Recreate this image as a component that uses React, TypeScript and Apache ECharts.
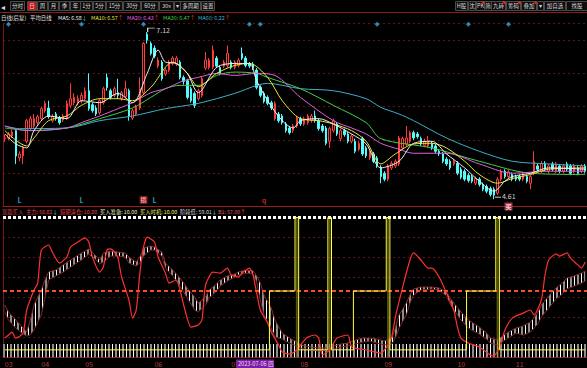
import React, { useEffect, useRef } from 'react';
import * as echarts from 'echarts';

// ---- price candles: [open, close, low, high] ----
const ohlc: number[][] = [
  [5.52,5.53,5.47,5.58],[5.53,5.59,5.50,5.62],[5.56,5.62,5.53,5.66],[5.64,5.26,5.14,5.66],[5.23,5.29,5.18,5.33],
  [5.26,5.38,5.14,5.41],[5.48,5.79,5.45,5.82],[5.67,5.82,5.64,5.86],[5.71,5.82,5.68,5.89],[5.76,5.85,5.73,5.88],
  [5.82,5.97,5.79,6.00],[5.94,6.05,5.91,6.09],[5.98,5.85,5.82,6.09],[5.79,5.85,5.76,5.89],[5.89,5.82,5.79,5.92],
  [5.83,5.76,5.73,5.86],[5.80,5.86,5.77,5.89],[5.83,6.05,5.80,6.09],[6.02,6.12,5.98,6.35],[6.06,6.14,6.02,6.20],
  [6.05,6.12,6.02,6.17],[6.09,6.17,6.05,6.21],[6.12,6.24,6.09,6.29],[6.24,5.97,5.94,6.50],[6.03,5.94,5.91,6.06],
  [5.98,5.89,5.86,6.02],[5.91,6.09,5.88,6.12],[6.06,6.27,6.03,6.30],[6.44,6.29,6.24,6.50],[6.24,6.14,6.11,6.27],
  [6.17,6.27,6.14,6.30],[6.21,6.17,6.12,6.42],[6.12,6.21,6.09,6.24],[6.15,6.27,6.12,6.39],[6.24,5.86,5.79,6.27],
  [5.83,5.94,5.80,5.97],[5.89,6.00,5.86,6.03],[5.98,6.27,5.95,6.44],[6.21,6.95,6.18,6.97],[7.09,7.00,6.95,7.12],
  [6.95,6.80,6.77,6.98],[6.88,6.76,6.73,6.92],[6.61,6.70,6.58,6.74],[6.67,6.42,6.39,6.70],[6.49,6.55,6.46,6.58],
  [6.55,6.67,6.52,6.70],[6.65,6.73,6.62,6.76],[6.64,6.73,6.61,6.76],[6.67,6.44,6.41,6.70],[6.44,6.38,6.33,6.47],
  [6.39,6.14,6.11,6.42],[6.27,6.09,6.06,6.30],[6.20,6.02,5.98,6.23],[6.12,6.24,6.09,6.27],[6.17,6.42,6.14,6.45],
  [6.58,6.70,6.55,6.82],[6.59,6.70,6.56,6.73],[6.59,6.85,6.56,6.92],[6.73,6.61,6.58,6.76],[6.59,6.50,6.47,6.62],
  [6.61,6.67,6.58,6.70],[6.62,6.80,6.59,6.92],[6.67,6.59,6.56,6.70],[6.59,6.67,6.56,6.70],[6.62,6.70,6.59,6.73],
  [6.80,6.73,6.70,6.89],[6.73,6.62,6.59,6.76],[6.65,6.61,6.58,6.67],[6.64,6.58,6.55,6.67],[6.55,6.29,6.26,6.58],
  [6.29,6.17,6.14,6.32],[6.20,6.08,6.05,6.23],[6.14,6.05,6.02,6.17],[6.06,5.98,5.95,6.09],[5.82,6.05,5.79,6.08],
  [5.89,5.79,5.76,5.92],[5.86,5.76,5.73,5.89],[5.74,5.64,5.61,5.77],[5.68,5.61,5.58,5.71],[5.64,5.71,5.61,5.74],
  [5.71,5.83,5.68,5.86],[5.82,5.74,5.71,5.85],[5.74,5.82,5.71,5.85],[5.76,5.86,5.73,5.89],[5.79,5.86,5.76,5.89],
  [5.86,5.79,5.76,5.94],[5.79,5.67,5.64,5.82],[5.71,5.64,5.61,5.74],[5.68,5.45,5.42,5.71],[5.48,5.67,5.38,5.70],
  [5.64,5.79,5.61,5.82],[5.74,5.59,5.56,5.77],[5.52,5.64,5.48,5.67],[5.64,5.58,5.55,5.67],[5.59,5.48,5.45,5.62],
  [5.48,5.56,5.45,5.59],[5.48,5.33,5.30,5.52],[5.36,5.45,5.33,5.48],[5.52,5.29,5.26,5.55],[5.38,5.26,5.23,5.41],
  [5.23,5.33,5.20,5.36],[5.29,5.18,5.15,5.32],[5.23,5.11,5.08,5.26],[5.09,4.95,4.85,5.12],[5.00,4.91,4.88,5.03],
  [4.91,5.11,4.88,5.14],[5.08,5.15,5.05,5.18],[5.11,5.18,5.08,5.21],[5.14,5.53,5.11,5.56],[5.38,5.52,5.35,5.55],
  [5.44,5.53,5.41,5.71],[5.48,5.61,5.45,5.64],[5.61,5.53,5.50,5.64],[5.59,5.55,5.52,5.62],[5.52,5.44,5.41,5.55],
  [5.42,5.48,5.39,5.52],[5.41,5.48,5.38,5.56],[5.45,5.38,5.35,5.48],[5.41,5.33,5.30,5.44],[5.33,5.29,5.26,5.36],
  [5.29,5.18,5.15,5.32],[5.21,5.14,5.11,5.24],[5.18,5.08,5.05,5.21],[5.14,5.18,5.11,5.21],[5.15,5.00,4.97,5.18],
  [5.06,4.94,4.91,5.09],[5.03,4.91,4.88,5.06],[4.97,4.89,4.86,5.00],[4.95,4.88,4.85,4.98],[4.85,4.92,4.82,4.95],
  [4.91,4.83,4.80,4.94],[4.83,4.76,4.73,4.86],[4.80,4.73,4.70,4.83],[4.77,4.68,4.65,4.80],[4.76,4.67,4.61,4.79],
  [4.70,4.91,4.67,4.94],[4.91,5.03,4.88,5.06],[5.03,4.95,4.92,5.06],[4.95,5.02,4.92,5.05],[4.98,4.91,4.88,5.01],
  [4.95,4.91,4.88,4.98],[4.95,4.91,4.88,4.98],[4.91,4.98,4.88,5.01],[4.95,4.88,4.85,4.98],[4.85,4.95,4.76,4.98],
  [5.00,5.18,4.97,5.33],[5.11,5.06,5.03,5.14],[5.03,5.15,5.00,5.18],[5.15,5.06,5.03,5.18],[5.03,5.11,5.00,5.14],
  [5.14,5.06,5.03,5.17],[5.03,5.14,5.00,5.17],[5.11,5.03,5.00,5.14],[5.03,5.11,5.00,5.14],[5.14,5.06,5.03,5.17],
  [5.11,5.00,4.97,5.14],[5.03,5.11,5.00,5.14],[5.08,5.00,4.97,5.11],[5.03,5.11,5.00,5.14],[5.11,5.03,5.00,5.14],
];

// ---- moving averages, read at sampled candle indices: [index, value] ----
const ma5 = [[0,5.59],[3,5.44],[6,5.38],[8,5.64],[12,5.86],[17,5.82],[21,6.09],[26,6.06],[31,6.20],[35,6.06],[39,6.50],[42,6.85],[44,6.67],[47,6.65],[50,6.50],[53,6.21],[58,6.59],[63,6.65],[67,6.65],[69,6.39],[72,6.09],[76,5.79],[79,5.68],[81,5.79],[86,5.82],[90,5.74],[95,5.59],[99,5.44],[103,5.08],[108,5.18],[112,5.45],[117,5.48],[121,5.29],[126,5.08],[130,4.88],[134,4.73],[137,4.88],[139,4.95],[144,5.00],[149,5.08],[159,5.06]];
const ma10 = [[0,5.64],[6,5.41],[8,5.53],[12,5.79],[17,5.86],[21,6.02],[26,6.12],[31,6.12],[35,6.09],[40,6.29],[46,6.67],[50,6.50],[53,6.30],[58,6.50],[63,6.62],[67,6.65],[72,6.44],[76,6.09],[81,5.82],[86,5.79],[90,5.74],[95,5.64],[99,5.48],[103,5.14],[107,5.29],[112,5.44],[117,5.45],[121,5.38],[126,5.18],[130,4.98],[135,4.85],[139,4.92],[144,4.98],[149,5.06],[159,5.08]];
const ma20 = [[0,5.71],[6,5.64],[17,5.68],[21,5.76],[26,5.86],[31,5.97],[35,6.06],[40,6.21],[44,6.27],[49,6.39],[53,6.44],[58,6.50],[63,6.47],[69,6.50],[74,6.47],[81,6.14],[90,5.79],[95,5.68],[99,5.59],[103,5.45],[108,5.36],[112,5.30],[121,5.30],[130,5.14],[139,5.00],[149,5.03],[159,5.03]];
const ma30 = [[0,5.68],[8,5.64],[17,5.68],[26,5.82],[35,5.98],[40,6.14],[44,6.27],[48,6.32],[53,6.32],[58,6.47],[63,6.52],[69,6.50],[72,6.44],[81,6.27],[90,6.02],[99,5.76],[103,5.52],[117,5.38],[130,5.18],[144,5.00],[159,4.98]];
const ma60 = [[0,5.71],[4,5.67],[17,5.68],[26,5.79],[35,5.86],[44,5.97],[53,6.05],[63,6.20],[69,6.32],[72,6.35],[81,6.27],[90,6.24],[99,6.12],[103,5.99],[108,5.89],[112,5.79],[121,5.53],[130,5.33],[139,5.18],[149,5.14],[159,5.11]];

// ---- lower indicator ----
const mainForce = [[0,18.0],[1,20.1],[2,22.1],[3,18.0],[5,21.4],[6,37.1],[8,50.7],[9,55.4],[10,77.9],[12,81.3],[13,76.5],[15,69.0],[17,73.1],[18,79.9],[20,83.3],[22,86.1],[23,83.3],[24,73.1],[26,62.9],[27,66.3],[28,77.9],[29,78.6],[30,76.5],[31,72.4],[32,59.5],[34,43.9],[35,31.6],[36,37.1],[37,62.2],[38,79.9],[39,86.7],[41,83.3],[42,73.1],[44,62.2],[45,55.4],[47,57.5],[48,50.7],[49,40.5],[51,25.5],[53,26.9],[54,30.3],[55,54.1],[57,62.9],[59,62.2],[61,65.6],[62,60.9],[64,59.5],[65,62.2],[67,65.6],[68,60.9],[69,48.6],[70,37.1],[72,28.2],[73,22.1],[75,13.3],[76,8.5],[78,7.1],[80,9.9],[81,13.3],[83,18.7],[85,20.1],[86,18.0],[87,6.5],[89,9.9],[91,18.0],[94,20.1],[95,11.9],[99,9.9],[103,7.8],[105,13.3],[106,18.7],[107,32.3],[109,52.7],[111,71.1],[112,75.9],[114,71.1],[116,65.6],[117,65.6],[119,59.5],[121,48.6],[123,37.1],[124,25.5],[125,18.0],[127,14.6],[130,11.9],[133,6.5],[134,5.8],[136,14.6],[137,23.5],[139,31.6],[142,35.0],[144,37.1],[145,33.7],[147,43.9],[148,60.9],[149,71.1],[151,75.2],[152,73.8],[154,75.9],[155,72.4],[157,67.7],[158,65.6],[159,69.7]];
const bandHi = [[0,40.5],[1,35.7],[3,30.3],[5,24.8],[6,22.1],[7,30.3],[8,40.5],[10,50.7],[11,57.5],[12,62.9],[14,64.3],[16,67.7],[18,71.1],[21,75.9],[23,78.6],[25,73.8],[26,71.1],[27,75.9],[29,77.2],[31,76.5],[33,75.9],[34,73.1],[36,69.7],[37,73.1],[38,79.3],[40,80.6],[41,79.9],[43,76.5],[44,69.0],[46,64.3],[48,58.8],[50,52.0],[52,45.9],[53,41.8],[55,45.9],[56,50.7],[58,54.8],[59,57.5],[61,60.2],[63,61.6],[64,62.9],[66,64.3],[68,63.6],[69,60.2],[70,55.4],[71,47.3],[73,38.4],[74,30.3],[76,21.4],[78,18.0],[80,15.3],[81,13.3],[84,11.9],[86,11.2],[88,11.2],[90,12.6],[92,13.9],[94,14.6],[96,16.7],[98,18.0],[100,18.0],[102,17.3],[104,16.0],[106,18.0],[107,24.8],[108,33.7],[110,41.8],[111,47.3],[112,51.4],[114,52.7],[117,52.7],[119,52.0],[121,49.3],[122,45.2],[123,41.8],[125,35.7],[127,30.3],[130,25.5],[132,21.4],[133,18.0],[135,16.7],[136,18.7],[138,22.1],[140,24.8],[142,26.2],[144,28.9],[146,35.0],[147,40.5],[149,46.6],[151,52.0],[153,56.1],[154,58.8],[156,60.2],[158,62.2],[159,63.6]];
const bandLo = [[0,35.7],[1,30.3],[3,24.8],[5,20.7],[6,19.4],[7,20.1],[8,23.5],[10,33.7],[11,45.2],[12,57.5],[14,60.2],[16,62.9],[18,66.3],[21,71.1],[23,75.2],[25,71.1],[26,68.4],[27,69.7],[29,73.8],[31,73.8],[33,73.1],[34,69.0],[36,67.0],[37,69.0],[38,73.8],[40,77.9],[41,77.9],[43,73.8],[44,65.6],[46,60.2],[48,53.4],[50,45.2],[52,37.1],[53,35.7],[55,40.5],[56,45.2],[58,50.0],[59,53.4],[61,56.8],[63,59.5],[64,60.9],[66,62.2],[68,61.6],[69,56.1],[70,43.9],[71,33.7],[73,24.8],[74,18.7],[76,17.3],[78,14.6],[80,12.6],[81,11.2],[84,9.9],[86,9.2],[88,9.9],[90,10.5],[92,11.9],[94,12.6],[96,13.9],[98,15.3],[100,16.0],[102,14.6],[104,13.3],[106,13.9],[107,18.0],[108,24.8],[110,33.7],[111,41.8],[112,47.3],[114,50.7],[117,51.4],[119,50.7],[121,46.6],[122,41.2],[123,37.1],[125,30.3],[127,24.8],[130,20.7],[132,17.3],[133,14.6],[135,13.3],[136,15.3],[138,18.0],[140,21.4],[142,20.0],[144,22.1],[146,27.5],[147,32.3],[149,38.4],[151,44.5],[153,48.6],[154,51.4],[156,53.4],[158,55.4],[159,56.8]];
const signalStep = [[0,10],[72,10],[73,50],[79,50],[80,100],[81,10],[88,10],[89,100],[90,10],[95,10],[96,50],[104,50],[105,100],[106,10],[126,10],[127,50],[134,50],[135,100],[136,10],[159,10]];
const spikeIdx = [80, 89, 105, 135];

// ---- labels & markers ----
const monthIdx = [0, 10, 22, 41, 62, 81, 104, 124, 140];
const monthLbl = ['03', '04', '05', '06', '07', '08', '09', '10', '11'];
const diamondIdx = [1, 21, 38, 67, 70, 102, 127, 138];
const lIdx = [4, 21, 41];
const qIdx = [71];
const lossIdx = 38;
const buyIdx = 138;
const highIdx = 39, highVal = 7.12;
const lowIdx = 134, lowVal = 4.61;

const FONT = '"Noto Sans CJK SC", "Noto Sans", sans-serif';

function stripeCanvas(): HTMLCanvasElement {
  const c = document.createElement('canvas');
  c.width = 7; c.height = 2;
  const g = c.getContext('2d')!;
  g.fillStyle = '#ffffff'; g.fillRect(0, 0, 1, 2);
  g.fillStyle = '#8c8c8c'; g.fillRect(3, 0, 2, 2);
  return c;
}

const T = (x: number, y: number, text: string, fill: string, size = 6, align = 'left') => ({
  type: 'text', x, y, silent: true, z: 20,
  style: { text, fill, font: `${size}px ${FONT}`, verticalAlign: 'middle', align },
});
// one text element made of coloured runs
const R = (x: number, y: number, parts: [string, string][], size = 5.4) => {
  const rich: any = {};
  parts.forEach(([, c], k) => { rich['p' + k] = { fill: c, font: `${size}px ${FONT}` }; });
  return {
    type: 'text', x, y, silent: true, z: 20,
    style: { text: parts.map(([t], k) => `{p${k}|${t}}`).join(''), font: `${size}px ${FONT}`, verticalAlign: 'middle', rich },
  };
};

function buildGraphic() {
  const g: any[] = [];
  const leftBtns: [string, number, number][] = [['分时',10,14],['日',27,9],['周',37,10],['月',48,10],['季',59,10],['年',70,10],['1分',80,12],['5分',93,12],['15分',106,16],['30分',123,17],['60分',141,17],['30s',159,14],['▾',174,6],['多周期',180,20],['设置',201,13]];
  const rightBtns: [string, number, number][] = [['H股',455,12],['沈',468,7],['PK',476,8],['简',484,7],['九转',491,14],['筹码',506,14],['叠加',521,15],['▾',537,6],['加自选',544,21],['找股',566,21]];
  g.push({ type: 'text', x: 1, y: 6, silent: true, style: { text: '◂', fill: '#ddd', font: `8px ${FONT}`, verticalAlign: 'middle' } });
  [...leftBtns, ...rightBtns].forEach(([t, x, w]) => {
    g.push({ type: 'rect', silent: true, z: 10, shape: { x: x + 0.5, y: 1.5, width: w, height: 9 }, style: { fill: t === '日' ? '#c41a1a' : '#0e0e0e', stroke: '#4a4a4a', lineWidth: 1 } });
    g.push(T(x + w / 2 + 0.5, 6, t, '#d8d8d8', 5.5, 'center'));
  });
  [['PK',476,8],['九转',491,14],['筹码',506,14],['叠加',521,15]].forEach(([, x, w]: any) => {
    g.push({ type: 'polygon', silent: true, z: 21, shape: { points: [[x + w - 3, 1.5], [x + w + 0.5, 1.5], [x + w + 0.5, 5]] }, style: { fill: '#ff2020' } });
  });
  g.push({ type: 'line', silent: true, z: 10, shape: { x1: 0, y1: 12.5, x2: 587, y2: 12.5 }, style: { stroke: '#8c1a1a', lineWidth: 1 } });
  // legend row
  g.push(R(1, 17.5, [['日线(后复)', '#e6e6e6']]));
  g.push(R(30, 17.5, [['平均日线', '#e6e6e6']]));
  g.push(R(58, 17.5, [['MA5: 6.58', '#f2f2f2'], ['↓', '#20e0a0']]));
  g.push(R(91, 17.5, [['MA10: 6.57', '#e8e83a'], ['↑', '#ff3030']]));
  g.push(R(127, 17.5, [['MA20: 6.43', '#e060e0'], ['↑', '#ff3030']]));
  g.push(R(163, 17.5, [['MA30: 6.47', '#40d040'], ['↑', '#ff3030']]));
  g.push(R(198, 17.5, [['MA60: 6.22', '#3ab0c8'], ['↑', '#ff3030']]));
  // indicator row
  g.push(R(2, 212, [['现跟买入', '#d23c3c']], 5.3));
  g.push(R(26, 212, [['主力: 56.02', '#e84040'], ['↓', '#30e0e0']], 5.3));
  g.push(R(60, 212, [['短期清仓: 10.00', '#e84040']], 5.3));
  g.push(R(100, 212, [['买入准备: 10.00', '#e8e8b0']], 5.3));
  g.push(R(140, 212, [['买入时机: 10.00', '#e8e860']], 5.3));
  g.push(R(180, 212, [['阶段低: 59.01', '#d0d0d0'], ['↓', '#30e0e0']], 5.3));
  g.push(R(218, 212, [['B1: 57.00', '#e05a5a'], ['↑', '#ff3030']], 5.3));
  // cursor date box
  g.push({ type: 'rect', silent: true, z: 20, shape: { x: 236, y: 359.5, width: 38, height: 8.5 }, style: { fill: '#7b1fa2' } });
  g.push(T(238, 364, '2023-07-06 四', '#f4d8ff', 5.6));
  return g;
}

export default function App() {
  const ref = useRef<HTMLDivElement>(null);
  useEffect(() => {
    document.body.style.margin = '0';
    document.body.style.background = '#000';
    const chart = echarts.init(ref.current!, undefined, { renderer: 'svg' });
    const cats = ohlc.map((_, i) => String(i));
    const stripe = { image: stripeCanvas(), repeat: 'repeat', imageWidth: 7, imageHeight: 2 };
    const bandDiff = bandHi.map(([i, v], k) => [i, +(v - bandLo[k][1]).toFixed(2)]);
    const maLine = (name: string, data: number[][], color: string) => ({
      name, type: 'line', xAxisIndex: 0, yAxisIndex: 0, data, smooth: 0.3, symbol: 'none',
      lineStyle: { color, width: 1 }, silent: true, z: 3,
    });
    const sig = (i: number, v: number, text: string, color: string, box: string | null) => ({
      value: [i, v], symbol: 'rect', symbolSize: box ? [8, 8] : 1,
      itemStyle: { color: box || 'transparent' },
      label: { show: true, formatter: text, color, fontSize: box ? 6 : 7, position: 'inside', fontFamily: FONT, fontWeight: 'bold' },
    });
    const option: any = {
      backgroundColor: '#000',
      animation: false,
      grid: [
        { left: 3, right: 0, top: 23.5, height: 183 },
        { left: 3, right: 0, top: 217.5, height: 139.7 },
      ],
      xAxis: [
        { type: 'category', gridIndex: 0, data: cats, boundaryGap: true,
          axisLine: { lineStyle: { color: '#9e1c1c' } }, axisTick: { show: false }, axisLabel: { show: false }, splitLine: { show: false } },
        { type: 'category', gridIndex: 1, data: cats, boundaryGap: true,
          axisLine: { lineStyle: { color: '#8a1a1a' } }, axisTick: { show: false },
          axisLabel: { interval: (i: number) => monthIdx.includes(i), formatter: (_v: string, i: number) => monthLbl[monthIdx.indexOf(i)] ?? '',
            color: '#b83c3c', fontSize: 7, align: 'left', margin: 3, fontFamily: FONT },
          splitLine: { show: false } },
      ],
      yAxis: [
        { type: 'value', gridIndex: 0, min: 4.5, max: 7.25, interval: 0.5,
          axisLine: { show: true, lineStyle: { color: '#7a1616' } }, axisLabel: { show: false }, axisTick: { show: false },
          splitLine: { lineStyle: { color: '#601414', type: [2, 3] } } },
        { type: 'value', gridIndex: 1, min: 5, max: 100,
          axisLine: { show: true, lineStyle: { color: '#7a1616' } }, axisLabel: { show: false }, axisTick: { show: false }, splitLine: { show: false } },
        { type: 'value', gridIndex: 1, min: 0, max: 7, interval: 1,
          axisLine: { show: false }, axisLabel: { show: false }, axisTick: { show: false },
          splitLine: { lineStyle: { color: '#601414', type: [2, 3] } } },
      ],
      series: [
        { name: 'K', type: 'candlestick', xAxisIndex: 0, yAxisIndex: 0, data: ohlc, barWidth: 2, z: 2,
          itemStyle: { color: '#000', color0: '#54fcfc', borderColor: '#ff3c3c', borderColor0: '#54fcfc', borderWidth: 1 },
          markPoint: {
            silent: true, animation: false,
            data: [
              { coord: [highIdx, highVal], symbol: 'path://M0,4L0,0L8,0', symbolSize: [7, 4], symbolOffset: [4, -2], symbolKeepAspect: false,
                itemStyle: { color: 'transparent', borderColor: '#d0d0d0', borderWidth: 1 },
                label: { show: true, position: 'right', distance: 1, formatter: String(highVal), color: '#d0d0d0', fontSize: 7, fontFamily: FONT } },
              { coord: [lowIdx, lowVal], symbol: 'rect', symbolSize: [6, 1], symbolOffset: [4, -2],
                itemStyle: { color: '#d0d0d0' },
                label: { show: true, position: 'right', distance: 1, offset: [0, -1], formatter: String(lowVal), color: '#d0d0d0', fontSize: 7, fontFamily: FONT } },
            ],
          } },
        maLine('MA60', ma60, '#3ab0c8'),
        maLine('MA30', ma30, '#40d040'),
        maLine('MA20', ma20, '#e060e0'),
        maLine('MA10', ma10, '#e8e83a'),
        maLine('MA5', ma5, '#f0f0f0'),
        { name: 'diamond', type: 'scatter', xAxisIndex: 0, yAxisIndex: 0, symbol: 'diamond', symbolSize: 5, silent: true,
          data: diamondIdx.map(i => [i, 7.24]), itemStyle: { color: '#3aa8e0' }, z: 5 },
        { name: 'signals', type: 'scatter', xAxisIndex: 0, yAxisIndex: 0, silent: true, z: 6, clip: false,
          data: [
            ...lIdx.map(i => sig(i, 4.6, 'L', '#3cc8e0', null)),
            ...qIdx.map(i => sig(i, 4.6, 'q', '#e03030', null)),
            sig(lossIdx, 4.6, '损', '#ffd0d0', '#a81c1c'),
            sig(buyIdx, 4.5, '买', '#ffffff', '#d04060'),
          ] },
        // lower panel
        { name: 'bandBase', type: 'line', xAxisIndex: 1, yAxisIndex: 1, stack: 'band', data: bandLo, symbol: 'none', silent: true,
          lineStyle: { color: '#7a2424', width: 1 }, z: 2 },
        { name: 'band', type: 'line', xAxisIndex: 1, yAxisIndex: 1, stack: 'band', data: bandDiff, symbol: 'none', silent: true,
          lineStyle: { color: '#8a2a2a', width: 1 }, areaStyle: { color: stripe, opacity: 1 }, z: 2 },
        { name: 'mainForce', type: 'line', xAxisIndex: 1, yAxisIndex: 1, data: mainForce, smooth: 0.2, symbol: 'none', silent: true,
          lineStyle: { color: '#ff3030', width: 1.2 }, z: 4,
          markLine: { silent: true, symbol: 'none', animation: false, label: { show: false },
            data: [
              { yAxis: 100, lineStyle: { color: '#ffffff', width: 3, type: [3, 2] } },
              { yAxis: 50, lineStyle: { color: '#ff4a2a', width: 2, type: [4, 3] } },
            ] },
          markArea: { silent: true, data: [[{ yAxis: 5 }, { yAxis: 14 }]], itemStyle: { color: stripe } } },
        { name: 'spike', type: 'bar', xAxisIndex: 1, yAxisIndex: 1, data: spikeIdx.map(i => [i, 100]), barWidth: 2, silent: true,
          itemStyle: { color: 'rgba(120,120,20,0.7)' }, z: 3 },
        { name: 'signal', type: 'line', xAxisIndex: 1, yAxisIndex: 1, data: signalStep, step: 'middle', symbol: 'none', silent: true,
          lineStyle: { color: '#ffff3c', width: 1 }, z: 5 },
      ],
      graphic: buildGraphic(),
    };
    chart.setOption(option);
    return () => chart.dispose();
  }, []);
  return <div ref={ref} style={{ width: 587, height: 368, background: '#000' }} />;
}
